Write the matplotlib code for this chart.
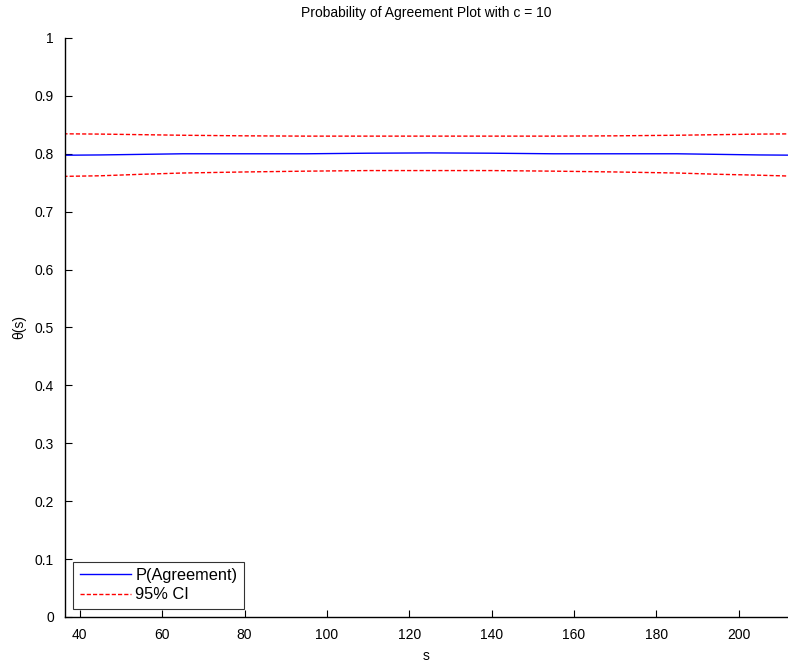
import matplotlib
matplotlib.use("Agg")
import matplotlib.pyplot as plt

s_vals = [36, 45, 55, 65, 80, 95, 110, 125, 140, 155, 170, 185, 195, 205, 215]
p_agree = [0.7975, 0.798, 0.799, 0.800, 0.800, 0.800, 0.801, 0.8015, 0.801, 0.800, 0.800, 0.800, 0.799, 0.798, 0.7975]
ci_upper = [0.8345, 0.834, 0.833, 0.832, 0.831, 0.8305, 0.8305, 0.8305, 0.8305, 0.8305, 0.831, 0.832, 0.833, 0.834, 0.8345]
ci_lower = [0.761, 0.762, 0.7646, 0.7668, 0.7686, 0.770, 0.771, 0.771, 0.771, 0.770, 0.7686, 0.7668, 0.7646, 0.763, 0.761]
x_ticks = [40, 60, 80, 100, 120, 140, 160, 180, 200]
y_ticks = [0, 0.1, 0.2, 0.3, 0.4, 0.5, 0.6, 0.7, 0.8, 0.9, 1]
y_tick_labels = ["0", "0.1", "0.2", "0.3", "0.4", "0.5", "0.6", "0.7", "0.8", "0.9", "1"]

plt.rcParams['font.family'] = ['Liberation Sans', 'DejaVu Sans']
plt.rcParams['font.size'] = 10

fig = plt.figure(figsize=(7.88, 6.64), dpi=100)
ax = fig.add_axes([0.0825, 0.0708, 0.9175, 0.872])

ax.plot(s_vals, p_agree, color='blue', lw=1.0, label='P(Agreement)')
ax.plot(s_vals, ci_upper, color='red', lw=1.0, ls=(0, (3, 1.5)), label='95% CI')
ax.plot(s_vals, ci_lower, color='red', lw=1.0, ls=(0, (3, 1.5)))

ax.set_xlim(36.4, 212)
ax.set_ylim(0, 1)
ax.set_xticks(x_ticks)
ax.set_yticks(y_ticks)
ax.set_yticklabels(y_tick_labels)
ax.tick_params(direction='in', length=5, width=0.8, labelsize=10, pad=8)
ax.spines['top'].set_visible(False)
ax.spines['right'].set_visible(False)
ax.spines['left'].set_linewidth(1.0)
ax.spines['bottom'].set_linewidth(1.0)

ax.set_title('Probability of Agreement Plot with c = 10', fontsize=10, pad=15)
ax.set_xlabel('s', fontsize=10, labelpad=5)
ax.set_ylabel('θ(s)', fontsize=10, labelpad=6)

leg = ax.legend(loc='lower left', fontsize=11.8, frameon=True, fancybox=False,
                edgecolor='black', handlelength=3.1, handletextpad=0.3,
                borderaxespad=0.5, labelspacing=0.25, borderpad=0.4)
leg.get_frame().set_linewidth(0.8)

fig.savefig('out.png', dpi=100)
